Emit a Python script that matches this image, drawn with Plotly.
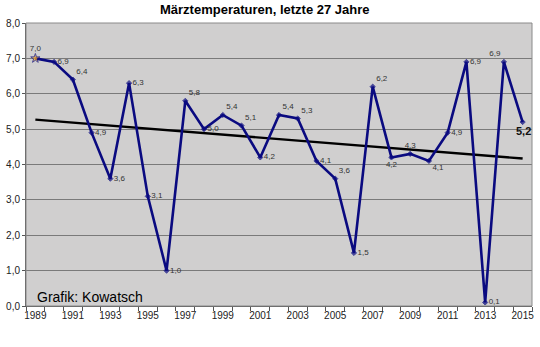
import numpy as np
import plotly.graph_objects as go

years = list(range(1989, 2016))
temps = [7.0, 6.9, 6.4, 4.9, 3.6, 6.3, 3.1, 1.0, 5.8, 5.0, 5.4, 5.1, 4.2, 5.4, 5.3,
         4.1, 3.6, 1.5, 6.2, 4.2, 4.3, 4.1, 4.9, 6.9, 0.1, 6.9, 5.2]
label_pos = ["top center", "middle right", "top right", "middle right", "middle right",
             "middle right", "middle right", "middle right", "top right", "middle right",
             "top right", "top right", "middle right", "top right", "top right",
             "middle right", "top right", "middle right", "top right", "bottom center",
             "top center", "bottom right", "middle right", "middle right", "middle right",
             "top left", "bottom center"]
tick_years = list(range(1989, 2016, 2))
y_ticks = list(range(0, 9))

labels = [f"{v:.1f}".replace(".", ",") for v in temps]

# linear trend from data
coef = np.polyfit(years, temps, 1)
trend = np.polyval(coef, [years[0], years[-1]])

n = len(years)
fig = go.Figure()
fig.add_trace(go.Scatter(
    x=[years[0], years[-1]], y=trend, mode="lines",
    line=dict(color="black", width=2.4), showlegend=False, hoverinfo="skip",
))
fig.add_trace(go.Scatter(
    x=years, y=temps, mode="lines+markers+text",
    line=dict(color="#0a0a80", width=2.6),
    marker=dict(size=[7] + [4] * (n - 1),
                color=["#f5a623"] + ["#0a0a80"] * (n - 1),
                symbol=["star"] + ["diamond"] * (n - 1)),
    text=labels[:-1] + [""],
    textposition=label_pos,
    textfont=dict(family="Arial, Liberation Sans", size=8, color="#333333"),
    cliponaxis=False, hoverinfo="skip", showlegend=False,
))

fig.update_layout(
    width=540, height=347,
    margin=dict(l=22, r=6, t=23, b=41),
    paper_bgcolor="white", plot_bgcolor="#d0cfcf",
    separators=",.",
    font=dict(family="Arial, Liberation Sans", size=10, color="#222222"),
    annotations=[
        dict(text="<b>Märztemperaturen, letzte 27 Jahre</b>", xref="paper", yref="paper",
             x=(264 - 22) / 512, y=1 + (23 - 10) / 283, showarrow=False,
             font=dict(family="Arial, Liberation Sans", size=13, color="black"),
             xanchor="center", yanchor="middle"),
        dict(text="Grafik: Kowatsch", xref="paper", yref="paper",
             x=(31 - 22) / 512, y=(306 - 297) / 283, showarrow=False,
             font=dict(family="Arial, Liberation Sans", size=14, color="black"),
             xanchor="left", yanchor="middle"),
        dict(text="<b>" + labels[-1] + "</b>", x=years[-1], y=temps[-1],
             xref="x", yref="y", showarrow=False, yshift=-9, xshift=1,
             font=dict(family="Arial, Liberation Sans", size=11, color="#111111")),
    ],
)
fig.update_xaxes(
    range=[1988.5, 2015.5], tickmode="array", tickvals=tick_years,
    ticktext=[str(y) for y in tick_years], ticks="", showgrid=False,
    showline=True, linecolor="#555555", linewidth=1, mirror=False,
    tickfont=dict(size=10, color="#222222"),
    minor=dict(tickmode="linear", tick0=1988.5, dtick=1, ticks="outside",
               ticklen=4, tickcolor="#555555", showgrid=False),
    zeroline=False,
)
fig.update_yaxes(
    range=[0, 8], tickmode="array", tickvals=y_ticks, tickformat=".1f",
    ticks="outside", ticklen=3, tickcolor="#555555",
    showgrid=True, gridcolor="#7a7a7a", gridwidth=1,
    showline=True, linecolor="#555555", linewidth=1, mirror=False,
    tickfont=dict(size=10, color="#222222"), zeroline=False,
)
fig.add_shape(type="rect", xref="paper", yref="paper", x0=0, y0=0, x1=1, y1=1,
              line=dict(color="#8a8a8a", width=1), layer="above")

fig.write_html("out.html")
